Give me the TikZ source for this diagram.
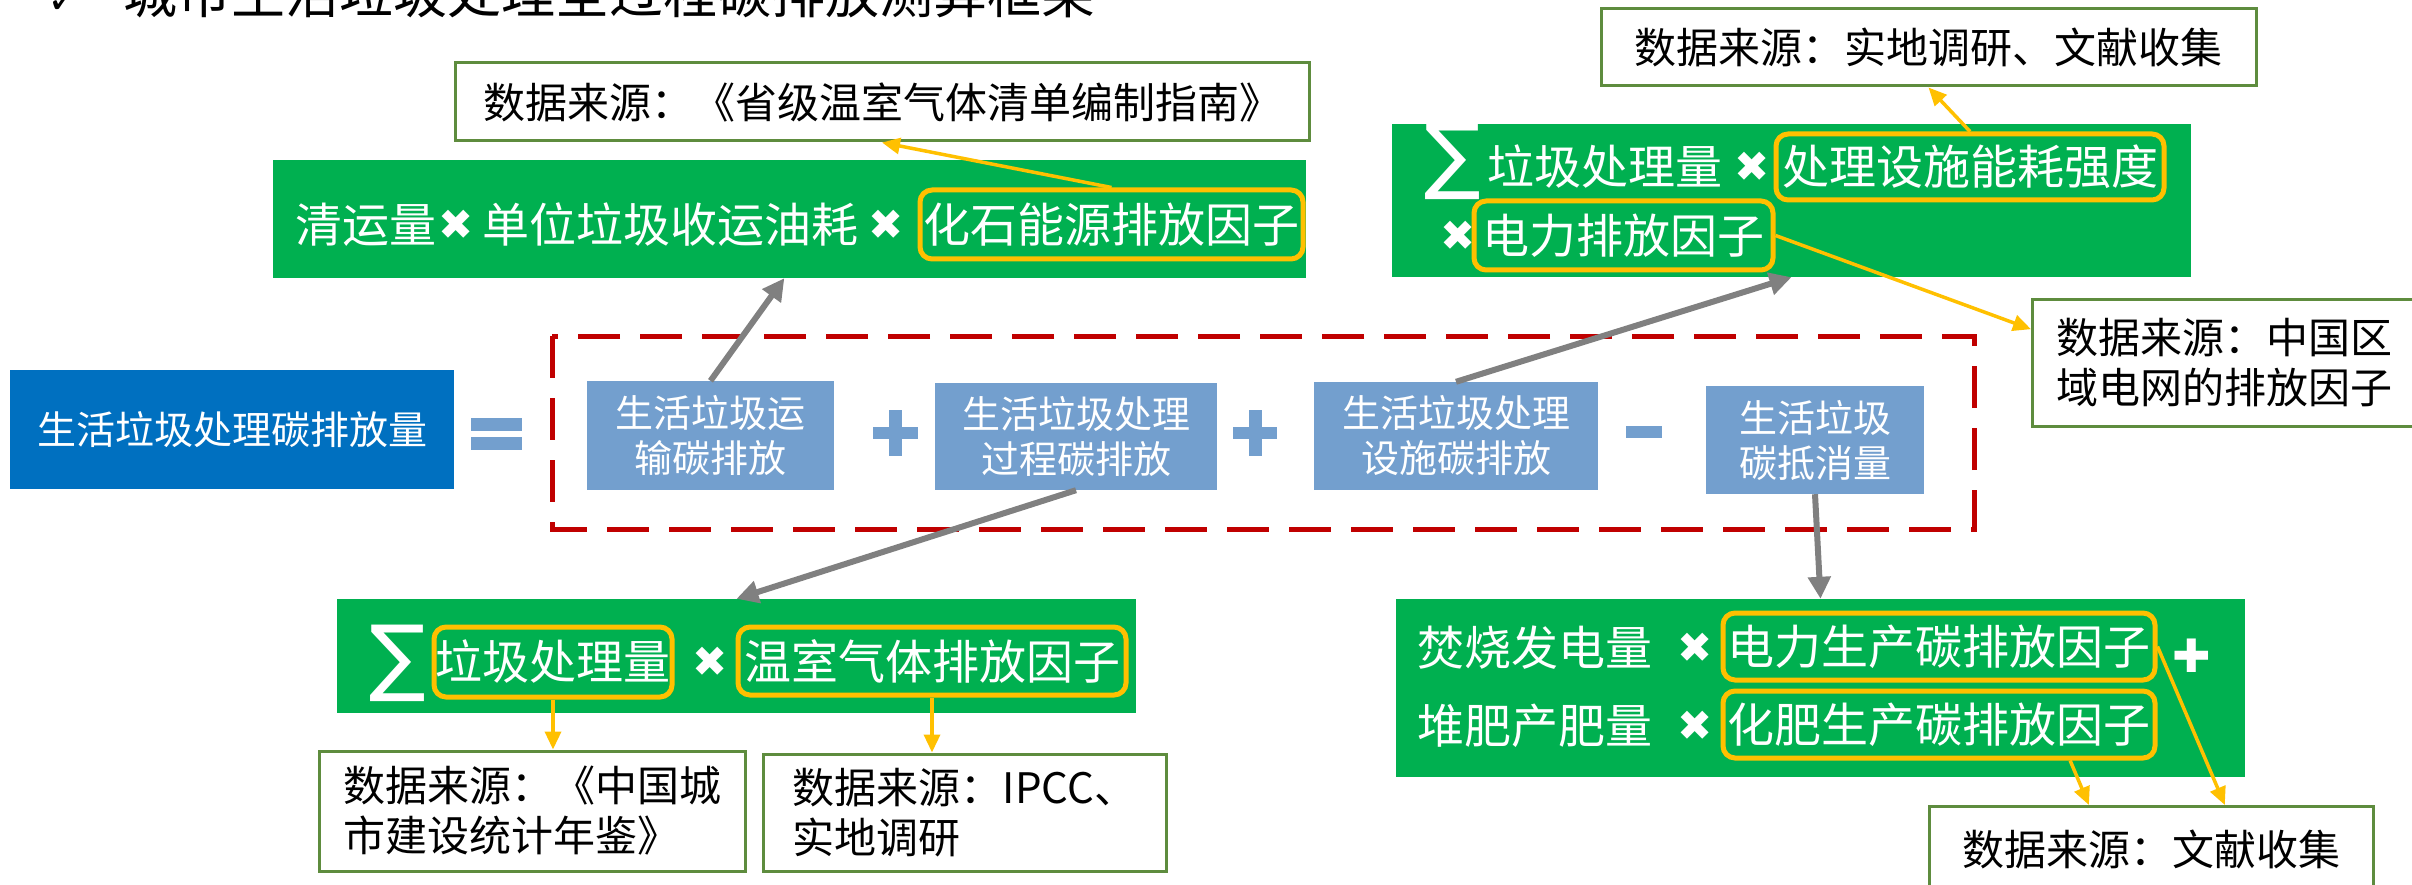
\documentclass[tikz,border=0pt]{standalone}
\usepackage{fontspec}
\setmainfont{Noto Sans CJK SC}
\newfontfamily\sym{DejaVu Sans}
\usetikzlibrary{arrows.meta,calc}
\definecolor{pgreen}{HTML}{00B050}
\definecolor{dgreen}{HTML}{5E8C3E}
\definecolor{pyellow}{HTML}{FFC000}
\definecolor{pred}{HTML}{C00000}
\definecolor{dblue}{HTML}{0070C0}
\definecolor{lblue}{HTML}{739FCE}
\definecolor{grayc}{HTML}{808080}
\newcommand\fsG{\fontsize{47}{56}\selectfont}
\newcommand\fsD{\fontsize{42}{50}\selectfont}
\newcommand\fsB{\fontsize{38}{45}\selectfont}
\newcommand\fsM{\fontsize{39}{46}\selectfont}
\newcommand\fsX{\sym\fontsize{42}{42}\selectfont}
\newcommand\fsP{\sym\fontsize{46}{46}\selectfont}
\newcommand\fsS{\sym\fontsize{84}{84}\selectfont}
\begin{document}
\begin{tikzpicture}[x=1pt,y=-1pt,
  databox/.style={draw=dgreen, line width=3pt, fill=white, inner sep=0pt, font=\fsD},
  gbox/.style={fill=pgreen, draw=none, inner sep=0pt},
  ybox/.style={draw=pyellow, line width=5pt, rounded corners=12pt, inner sep=0pt, text=white, font=\fsG},
  wtxt/.style={text=white, inner sep=0pt, font=\fsG},
  xmark/.style={text=white, inner sep=0pt, font=\fsX},
  pmark/.style={text=white, inner sep=0pt, font=\fsP},
  sigma/.style={text=white, inner sep=0pt, font=\fsS},
  lbbox/.style={fill=lblue, text=white, align=center, font=\fsB, inner sep=0pt},
  grayarr/.style={draw=grayc, line width=6pt, -{Triangle[length=22pt,width=22pt]}},
  yarr/.style={draw=pyellow, line width=3.5pt, -{Triangle[length=18pt,width=16pt]}}]
\useasboundingbox (0,0) rectangle (2412,885);
\clip (0,0) rectangle (2412,885);

% title (cut off at the top, as in the reference)
\node[anchor=base west, inner sep=0pt, font=\fontsize{54}{60}\selectfont] (title) at (123,14) {城市生活垃圾处理全过程碳排放测算框架};
\node[anchor=base, inner sep=0pt, font=\sym\fontsize{40}{40}\selectfont] (tick) at (64,14) {✓};

% data source A
\node[databox, minimum width=854pt, minimum height=78pt] (dA) at (882,102) {数据来源：《省级温室气体清单编制指南》};

% green box 1
\node[gbox, minimum width=1033pt, minimum height=118pt] (g1) at (789.5,219) {};
\node[wtxt, anchor=west] (g1a) at (295,225) {清运量};
\node[xmark] (g1x1) at (456,225) {✖};
\node[wtxt, anchor=west] (g1b) at (482,225) {单位垃圾收运油耗};
\node[xmark] (g1x2) at (886,225) {✖};
\node[ybox, minimum width=383pt, minimum height=69pt] (y1) at (1111.5,224.5) {化石能源排放因子};

% data source B
\node[databox, minimum width=655pt, minimum height=77pt] (dB) at (1928.5,47.5) {数据来源：实地调研、文献收集};

% green box 2
\node[gbox, minimum width=799pt, minimum height=153pt] (g2) at (1791.5,200.5) {};
\node[sigma] (s2) at (1453,161) {∑};
\node[wtxt, anchor=west] (g2a) at (1487,167) {垃圾处理量};
\node[xmark] (g2x1) at (1752,167) {✖};
\node[ybox, minimum width=388pt, minimum height=66pt] (yB1) at (1970,167) {处理设施能耗强度};
\node[xmark] (g2x2) at (1458,236) {✖};
\node[ybox, minimum width=299pt, minimum height=69pt] (yB2) at (1623.5,235.5) {电力排放因子};

% data source C
\node[databox, anchor=north west, minimum height=127pt, text width=360pt, inner xsep=24pt, align=left] (dC) at (2031,298) {数据来源：中国区\\域电网的排放因子};

% main equation
\node[fill=dblue, minimum width=444pt, minimum height=119pt, text=white, font=\fsM, inner sep=0pt] (main) at (232,429.5) {生活垃圾处理碳排放量};
\fill[lblue] (471,418) rectangle (522,431);
\fill[lblue] (471,437) rectangle (522,450);

\draw[pred, line width=5pt, dash pattern=on 42pt off 20pt] (552,336) rectangle (1974,529);

\node[lbbox, minimum width=247pt, minimum height=109pt] (b1) at (710.5,435.5) {生活垃圾运\\输碳排放};
\fill[lblue] (873,427) rectangle (918,439);
\fill[lblue] (889,410) rectangle (902,456);
\node[lbbox, minimum width=282pt, minimum height=107pt] (b2) at (1076,436.5) {生活垃圾处理\\过程碳排放};
\fill[lblue] (1233,427) rectangle (1277,439);
\fill[lblue] (1248.5,410) rectangle (1261.5,456);
\node[lbbox, minimum width=284pt, minimum height=108pt] (b3) at (1456,436) {生活垃圾处理\\设施碳排放};
\fill[lblue] (1626,426) rectangle (1662,438);
\node[lbbox, minimum width=218pt, minimum height=108pt] (b4) at (1815,440) {生活垃圾\\碳抵消量};

% green box 3
\node[gbox, minimum width=799pt, minimum height=114pt] (g3) at (736.5,656) {};
\node[sigma] (s3) at (398,663) {∑};
\node[ybox, minimum width=238pt, minimum height=70pt] (yC1) at (553,662) {垃圾处理量};
\node[xmark] (g3x) at (710,662) {✖};
\node[ybox, minimum width=388pt, minimum height=68pt] (yC2) at (932,661) {温室气体排放因子};

% data sources D, E
\node[databox, minimum width=426pt, minimum height=120pt, align=left] (dD) at (532,811) {数据来源：《中国城\\市建设统计年鉴》};
\node[databox, minimum width=403pt, minimum height=117pt, align=left] (dE) at (964.5,812.5) {数据来源：IPCC、\\实地调研};

% green box 4
\node[gbox, minimum width=849pt, minimum height=178pt] (g4) at (1820.5,688) {};
\node[wtxt, anchor=west] (g4a) at (1417,648) {焚烧发电量};
\node[xmark] (g4x1) at (1695,648) {✖};
\node[ybox, minimum width=432pt, minimum height=67pt] (yD1) at (1939,646.5) {电力生产碳排放因子};
\node[pmark] (g4p) at (2192,656) {✚};
\node[wtxt, anchor=west] (g4b) at (1417,726) {堆肥产肥量};
\node[xmark] (g4x2) at (1695,726) {✖};
\node[ybox, minimum width=432pt, minimum height=67pt] (yD2) at (1939,724.5) {化肥生产碳排放因子};

% data source F
\node[databox, anchor=north west, minimum width=444pt, minimum height=86pt] (dF) at (1928,805) {数据来源：文献收集};

% gray connectors
\draw[grayarr] (b1.north) -- ($(g1.south west)!0.495!(g1.south east)$);
\draw[grayarr] (b2.south) -- (g3.north);
\draw[grayarr] (b3.north) -- (g2.south);
\draw[grayarr] (b4.south) -- (g4.north);

% yellow connectors
\draw[yarr] (y1.north) -- (dA.south);
\draw[yarr] (yB1.north) -- (dB.south);
\draw[yarr] (yB2.east) -- ($(dC.north west)!0.24!(dC.south west)$);
\draw[yarr] (yC1.south) -- (yC1.south |- dD.north);
\draw[yarr] (yC2.south) -- (yC2.south |- dE.north);
\draw[yarr] ($(yD2.south west)!0.8!(yD2.south east)$) -- ($(dF.north west)!0.36!(dF.north east)$);
\draw[yarr] (yD1.east) -- ($(dF.north west)!0.664!(dF.north east)$);
\end{tikzpicture}
\end{document}
